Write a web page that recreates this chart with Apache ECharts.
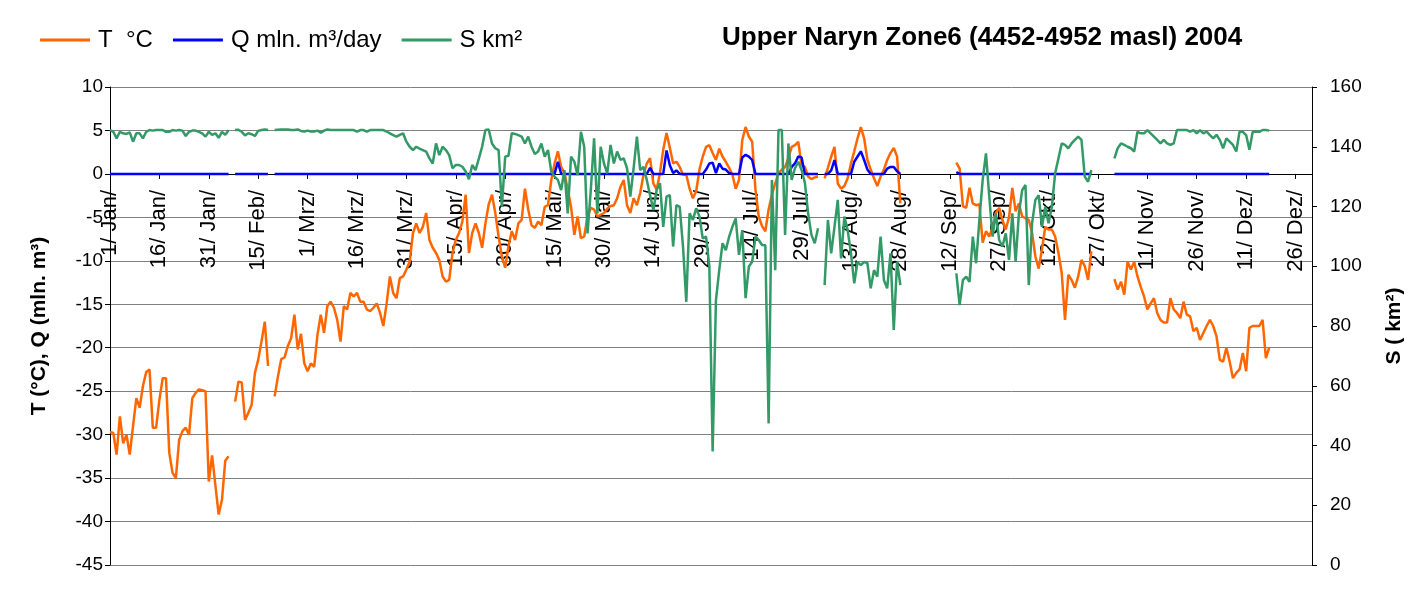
<!DOCTYPE html>
<html>
<head>
<meta charset="utf-8">
<script src="https://cdn.jsdelivr.net/npm/echarts@6/dist/echarts.min.js"></script>
<style>
html, body { margin: 0; padding: 0; background: #fff; }
#main { width: 1425px; height: 601px; }
</style>
</head>
<body>
<div id="main"></div>
<script>
// daily categories of 2004 (leap year), labels like "16/ Jan/"
var monthNames = ['Jan', 'Feb', 'Mrz', 'Apr', 'Mai', 'Jun', 'Jul', 'Aug', 'Sep', 'Okt', 'Nov', 'Dez']
var monthDays = [31, 29, 31, 30, 31, 30, 31, 31, 30, 31, 30, 31]
var days = []
monthNames.forEach(function (m, k) {
  for (var d = 1; d <= monthDays[k]; d++) days.push(d + '/ ' + m + '/')
})

// T °C, one value per day (null = no data), 15 days per row
var tempC = [
  -29.7, -29.8, -32.3, -27.9, -31, -30, -32.3, -29, -25.8, -26.9, -24.4, -22.8, -22.5, -29.2, -29.2,
  -26, -23.5, -23.5, -32.1, -34.4, -35, -30.6, -29.6, -29.2, -30, -25.8, -25.2, -24.8, -24.9, -25,
  -35.4, -32.4, -35.8, -39.2, -37.5, -33, -32.5, null, -26.2, -23.9, -24, -28.3, -27.5, -26.6, -22.9,
  -21.4, -19.3, -17, -22.1, null, -25.6, -23.3, -21.3, -21.1, -19.8, -18.9, -16.2, -20.2, -18.4, -21.8,
  -22.7, -21.8, -22.2, -18.5, -16.2, -18.3, -15.2, -14.7, -15.4, -16.8, -19.3, -15.2, -15.6, -13.7, -14.1,
  -13.7, -14.7, -14.7, -15.6, -15.8, -15.4, -14.9, -16, -17.5, -14.9, -11.8, -13.7, -14.3, -12, -11.8,
  -11, -10.1, -6.8, -5.7, -6.8, -6.1, -4.5, -7.6, -8.5, -9.1, -9.9, -11.8, -12.4, -12.2, -9.1,
  -7.6, -6.8, -5.5, -2.4, -9.1, -6.8, -5.7, -6.8, -8.5, -5.7, -3.5, -2.4, -4.5, -7.2, -9.5,
  -10.8, -8.3, -6.6, -7.6, -5.7, -5.3, -1.7, -4.1, -5.9, -6.2, -5.5, -5.9, -3.8, -3.6, -0.7,
  1.2, 2.6, 0.8, 0.1, -1.8, -3.8, -7, -4.9, -7.4, -7.2, -4.9, -3.9, -4.1, -4.9, -4.7,
  -4.5, -4, -3.7, -3.6, -2.8, -1.5, -0.7, -3.6, -4.5, -2.8, -3.6, -2.2, -0.1, 1.2, 1.8,
  -1.1, -1.8, 0.1, 2.8, 4.7, 3, 1.2, 1.4, 0.8, -0.1, -0.1, -1.7, -2.8, -2, 0.5,
  2, 3.1, 3.3, 2.4, 1.6, 2.9, 2, 1.4, 0.7, -0.1, -1.7, -0.7, 3.9, 5.4, 4.3,
  3.7, -1.8, -4.9, -6, -6.6, -4.1, -2.4, -1.1, 0.1, 0.5, 0.8, 1.8, 3.1, 3.3, 3.7,
  1, 0.8, -0.3, -0.6, -0.4, -0.3, null, -0.5, 0.7, 2, 3.1, -1.1, -1.7, -1.4, -0.5,
  1.2, 2.6, 4.1, 5.4, 4.1, 1.6, 0.5, -0.5, -1.4, -0.3, 0.5, 1.6, 2.4, 3, 2,
  -3.4, null, null, null, null, null, null, null, null, null, null, null, null, null, null,
  null, null, 1.3, 0.6, -3.7, -3.9, -1.6, -3.4, -3.6, -3.5, -7.9, -6.6, -7.2, -6.2, -4.5,
  -3.9, -5.3, -6.4, -5, -1.6, -4.3, -3.4, -4.9, -5.1, -5.3, -6.8, -9.5, -10.9, -8.7, -6.1,
  -6.4, -6.4, -7.2, -9.1, -11.4, -16.8, -11.6, -12.2, -13.1, -11.8, -9.9, -10.6, -12.2, -8.9, null,
  null, null, null, null, null, -12.1, -13.3, -12.4, -13.9, -10.1, -11, -10.1, -11.8, -13, -14.1,
  -15.6, -14.9, -14.3, -16, -16.8, -17.1, -17.1, -14.3, -15.6, -16, -16.6, -14.7, -16.2, -16.4, -18.1,
  -17.7, -19.1, -18.3, -17.5, -16.8, -17.5, -18.7, -21.4, -21.6, -20, -21.6, -23.5, -22.9, -22.5, -20.6,
  -22.7, -17.7, -17.5, -17.5, -17.5, -16.8, -21.2, -20, null, null, null, null, null, null, null,
  null, null, null, null, null, null
]

// Q mln. m³/day
var runoffQ = [
  0, 0, 0, 0, 0, 0, 0, 0, 0, 0, 0, 0, 0, 0, 0,
  0, 0, 0, 0, 0, 0, 0, 0, 0, 0, 0, 0, 0, 0, 0,
  0, 0, 0, 0, 0, 0, 0, null, 0, 0, 0, 0, 0, 0, 0,
  0, 0, 0, 0, null, 0, 0, 0, 0, 0, 0, 0, 0, 0, 0,
  0, 0, 0, 0, 0, 0, 0, 0, 0, 0, 0, 0, 0, 0, 0,
  0, 0, 0, 0, 0, 0, 0, 0, 0, 0, 0, 0, 0, 0, 0,
  0, 0, 0, 0, 0, 0, 0, 0, 0, 0, 0, 0, 0, 0, 0,
  0, 0, 0, 0, 0, 0, 0, 0, 0, 0, 0, 0, 0, 0, 0,
  0, 0, 0, 0, 0, 0, 0, 0, 0, 0, 0, 0, 0, 0, 0,
  0, 1.4, 0, 0, 0, 0, 0, 0, 0, 0, 0, 0, 0, 0, 0,
  0, 0, 0, 0, 0, 0, 0, 0, 0, 0, 0, 0, 0, 0, 0.7,
  0, 0, 0, 0, 2.7, 1, 0.1, 0.4, 0, 0, 0, 0, 0, 0, 0,
  0, 0.5, 1.2, 1.3, 0.1, 1.2, 0.6, 0.5, 0.1, 0, 0, 0, 1.9, 2.2, 2,
  1.6, 0, 0, 0, 0, 0, 0, 0, 0, 0, 0, 0, 0.8, 1.2, 2,
  1.9, 0, 0, 0, 0, 0, null, 0, 0, 0.4, 1.6, 0, 0, 0, 0,
  0, 1.4, 2, 2.6, 1.6, 0.5, 0, 0, 0, 0, 0, 0.6, 0.8, 0.8, 0.3,
  0, null, null, null, null, null, null, null, null, null, null, null, null, null, null,
  null, null, 0.2, 0, 0, 0, 0, 0, 0, 0, 0, 0, 0, 0, 0,
  0, 0, 0, 0, 0, 0, 0, 0, 0, 0, 0, 0, 0, 0, 0,
  0, 0, 0, 0, 0, 0, 0, 0, 0, 0, 0, 0, 0, 0, null,
  null, null, null, null, null, 0, 0, 0, 0, 0, 0, 0, 0, 0, 0,
  0, 0, 0, 0, 0, 0, 0, 0, 0, 0, 0, 0, 0, 0, 0,
  0, 0, 0, 0, 0, 0, 0, 0, 0, 0, 0, 0, 0, 0, 0,
  0, 0, 0, 0, 0, 0, 0, 0, null, null, null, null, null, null, null,
  null, null, null, null, null, null
]

// S km² (right axis)
var snowS = [
  145.6, 145, 142.8, 145, 144.5, 144.3, 144.8, 141.7, 144.5, 144.5, 142.8, 145, 145.6, 145.4, 145.6,
  145.6, 145.6, 145, 145, 145.6, 145.4, 145.6, 145.4, 143.6, 145, 145.4, 145.4, 145, 144.5, 143.4,
  145, 144, 144.5, 143, 145, 144, 145.5, null, 145.6, 145.7, 145, 143.8, 144.5, 144.2, 143.6,
  145.3, 145.6, 145.8, 145.6, null, 145.6, 145.7, 145.8, 145.8, 145.8, 145.6, 145.6, 145.8, 145.3, 145.1,
  145.4, 145.1, 145.1, 145.4, 144.7, 145.4, 145.8, 145.6, 145.6, 145.6, 145.6, 145.6, 145.6, 145.6, 145.6,
  145.1, 145.6, 145.6, 145.1, 145.6, 145.6, 145.6, 145.6, 145.6, 145.1, 144.5, 143.9, 143.4, 144, 144.5,
  141.7, 140, 138.9, 140, 139.4, 138.9, 138.4, 136.1, 134.4, 141.1, 137.2, 140, 138.9, 137.2, 132.8,
  133.9, 133.9, 133.3, 131.7, 129.1, 133.9, 132.2, 136, 140, 145.6, 145.8, 141.1, 139.5, 138.9, 119.9,
  136.7, 137, 144.5, 144.3, 143.9, 143.4, 141.1, 143.4, 140, 137.6, 138.4, 141.1, 136.7, 138.9, 131.7,
  130, 128.9, 125.5, 132.2, 117.7, 136.7, 135, 130.5, 145, 140, 111, 125.5, 142.8, 117.7, 140,
  134.4, 131.1, 140.6, 134.4, 138.4, 135.6, 136.1, 132.8, 123.3, 132.8, 143.4, 132.2, 133.3, 128.9, 123.8,
  118.8, 125.5, 127.8, 113.2, 123.3, 123.8, 106.6, 120.5, 119.9, 106.6, 88.1, 117.7, 115.5, 119.4, 116.6,
  109.3, 109.9, 100, 38, 88.6, 98.7, 107.7, 105.4, 109.9, 113.2, 116, 103.8, 112.1, 89.3, 99.9,
  101.5, 109.9, 108.8, 107.1, 107, 47.4, 128.9, 98.7, 145.6, 145.6, 110.5, 141.1, 128.9, 132.8, 135,
  132.2, 128, 117.7, 110.5, 107.7, 112.7, null, 93.7, 115.5, 104.3, 113.2, 122.2, 102.6, 116.6, 112.1,
  104.3, 94.3, 101.5, 100.4, 101.5, 101, 92.6, 98.7, 96.5, 109.9, 95.4, 92.6, 104.3, 78.7, 101.5,
  93.7, null, null, null, null, null, null, null, null, null, null, null, null, null, null,
  null, null, 97.6, 87, 95.4, 96.5, 94.8, 109.9, 101, 115.5, 128.9, 137.8, 123.3, 109.9, 117.7,
  108.8, 106.6, 111, 102.1, 117.7, 101.5, 117.7, 125.5, 127.2, 93.7, 114.4, 122.2, 123.8, 113.2, 119.9,
  114.4, 119.9, 131.1, 136.1, 141.1, 140.6, 139.5, 141.1, 142.3, 143.4, 142.3, 130, 128.3, 132.2, null,
  null, null, null, null, null, 136.1, 139.5, 141.1, 140.6, 140, 139.5, 138.4, 145, 144.5, 144.5,
  145.6, 144.5, 143.4, 142.3, 141.1, 142.3, 141.1, 140.6, 141.1, 145.6, 145.6, 145.6, 145.6, 145.1, 145.6,
  144.5, 145.6, 144.5, 145.1, 143.9, 142.8, 144, 142.3, 139.5, 142.8, 141.7, 140.6, 138.4, 145, 145,
  143.9, 139, 145, 145, 145, 145.6, 145.6, 145.4, null, null, null, null, null, null, null,
  null, null, null, null, null, null
]

var leftTicks = { min: -45, max: 10, step: 5 }
var rightTicks = { min: 0, max: 160, step: 20 }

var font = "'Liberation Sans', Arial, sans-serif"
var colors = ['#FF6600', '#0000FF', '#339966']

// plot area in px
var plotTop = 87
var plotBottom = 36
var plotHeight = 601 - plotTop - plotBottom
// move the category axis up to the T = 0 line
var zeroOffset = -plotHeight * (0 - leftTicks.min) / (leftTicks.max - leftTicks.min)

var myChart = echarts.init(document.getElementById('main'))
myChart.setOption({
  animation: false,
  color: colors,
  textStyle: { fontFamily: font, color: '#000' },
  title: {
    text: 'Upper Naryn Zone6 (4452-4952 masl) 2004',
    left: 722,
    top: 25,
    padding: 0,
    textStyle: { fontFamily: font, fontSize: 26, fontWeight: 'bold', color: '#000' }
  },
  //图例
  legend: {
    left: 40,
    top: 28,
    padding: 0,
    icon: 'rect',
    itemWidth: 50,
    itemHeight: 3,
    itemGap: 20,
    textStyle: { fontFamily: font, fontSize: 24, color: '#000', padding: [0, 0, 0, 3] },
    data: ['T  °C', 'Q mln. m³/day', 'S km²']
  },
  grid: { left: 110, right: 113, top: plotTop, bottom: plotBottom, outerBoundsMode: 'none' },
  xAxis: {
    type: 'category',
    data: days,
    boundaryGap: false,
    position: 'bottom',
    offset: zeroOffset,
    axisLine: { onZero: false, lineStyle: { color: '#000', width: 1 } },
    axisTick: { interval: 14, length: 5, lineStyle: { color: '#000' } },
    axisLabel: { interval: 14, rotate: 90, margin: 16, fontSize: 22, color: '#000', fontFamily: font },
    splitLine: { show: false }
  },
  yAxis: [
    {
      type: 'value',
      min: leftTicks.min,
      max: leftTicks.max,
      interval: leftTicks.step,
      name: 'T (°C), Q (mln. m³)',
      nameLocation: 'middle',
      nameRotate: 90,
      nameGap: 60,
      nameTextStyle: { fontFamily: font, fontSize: 21, fontWeight: 'bold', color: '#000' },
      axisLine: { show: true, onZero: false, lineStyle: { color: '#000' } },
      axisTick: { show: true, length: 5, lineStyle: { color: '#000' } },
      axisLabel: { fontSize: 19, color: '#000', margin: 7, fontFamily: font },
      splitLine: { show: true, lineStyle: { color: '#808080', width: 1 } }
    },
    {
      type: 'value',
      min: rightTicks.min,
      max: rightTicks.max,
      interval: rightTicks.step,
      name: 'S ( km²)',
      nameLocation: 'middle',
      nameRotate: 90,
      nameGap: 72,
      nameTextStyle: { fontFamily: font, fontSize: 21, fontWeight: 'bold', color: '#000' },
      axisLine: { show: true, onZero: false, lineStyle: { color: '#000' } },
      axisTick: { show: true, length: 5, lineStyle: { color: '#000' } },
      axisLabel: { fontSize: 19, color: '#000', margin: 18, fontFamily: font },
      splitLine: { show: false }
    }
  ],
  series: [
    {
      name: 'T  °C',
      type: 'line',
      yAxisIndex: 0,
      symbol: 'none',
      lineStyle: { width: 2.5 },
      data: tempC
    },
    {
      name: 'Q mln. m³/day',
      type: 'line',
      yAxisIndex: 0,
      symbol: 'none',
      lineStyle: { width: 2.5 },
      data: runoffQ
    },
    {
      name: 'S km²',
      type: 'line',
      yAxisIndex: 1,
      symbol: 'none',
      lineStyle: { width: 2.5 },
      data: snowS
    }
  ]
})
</script>
</body>
</html>
